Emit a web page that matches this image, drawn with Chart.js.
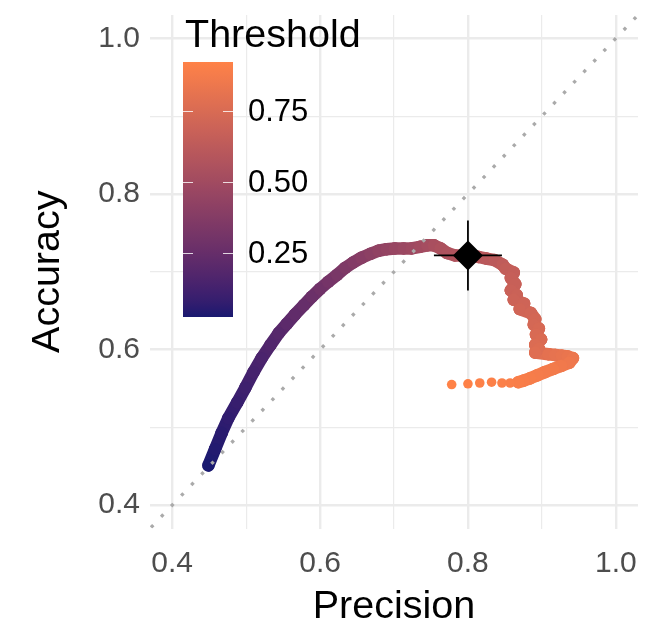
<!DOCTYPE html>
<html>
<head>
<meta charset="utf-8">
<script src="https://cdn.jsdelivr.net/npm/chart.js@4"></script>
<style>
  html, body { margin: 0; padding: 0; background: #fff; }
  canvas { display: block; }
</style>
</head>
<body>
<canvas id="pr-accuracy-chart" width="662" height="625"></canvas>
<script>
// one point per threshold
const precision = [
  0.449, 0.458, 0.467, 0.476, 0.488, 0.499, 0.510, 0.521, 0.533, 0.544,
  0.555, 0.566, 0.578, 0.589, 0.600, 0.611, 0.623, 0.634, 0.645, 0.656,
  0.668, 0.679, 0.690, 0.701, 0.713, 0.724, 0.735, 0.745, 0.754, 0.763,
  0.772, 0.782, 0.792, 0.803, 0.814, 0.825, 0.836, 0.847,
  0.851, 0.862, 0.858, 0.864, 0.858, 0.866, 0.862, 0.876, 0.870, 0.885,
  0.891, 0.889, 0.896, 0.892, 0.899, 0.891, 0.896, 0.891,
  0.909, 0.918, 0.927, 0.935, 0.942, 0.937, 0.926, 0.915, 0.904, 0.894,
  0.884, 0.875, 0.868, 0.857, 0.846, 0.832, 0.816, 0.800, 0.778
];
const accuracy = [
  0.451, 0.472, 0.493, 0.512, 0.532, 0.551, 0.571, 0.589, 0.606, 0.621,
  0.633, 0.645, 0.657, 0.668, 0.678, 0.687, 0.696, 0.705, 0.712, 0.718,
  0.723, 0.727, 0.729, 0.730, 0.730, 0.730, 0.732, 0.734, 0.734, 0.730,
  0.724, 0.721, 0.721, 0.721, 0.719, 0.717, 0.715, 0.709,
  0.704, 0.699, 0.692, 0.684, 0.676, 0.670, 0.664, 0.659, 0.652, 0.647,
  0.639, 0.632, 0.627, 0.619, 0.613, 0.606, 0.601, 0.596,
  0.594, 0.593, 0.592, 0.591, 0.589, 0.583, 0.579, 0.575, 0.571, 0.567,
  0.563, 0.560, 0.558, 0.557, 0.557, 0.558, 0.557, 0.556, 0.555
];
const threshold = [
  0.025, 0.040, 0.055, 0.070, 0.090, 0.110, 0.130, 0.150, 0.170, 0.190,
  0.210, 0.230, 0.250, 0.270, 0.290, 0.310, 0.330, 0.350, 0.370, 0.390,
  0.410, 0.430, 0.445, 0.460, 0.475, 0.490, 0.505, 0.520, 0.535, 0.550,
  0.560, 0.570, 0.580, 0.590, 0.600, 0.610, 0.620, 0.635,
  0.650, 0.657, 0.665, 0.672, 0.680, 0.687, 0.695, 0.702, 0.710, 0.717,
  0.725, 0.732, 0.740, 0.747, 0.755, 0.762, 0.770, 0.778,
  0.800, 0.810, 0.820, 0.830, 0.840, 0.850, 0.860, 0.870, 0.875, 0.880,
  0.885, 0.890, 0.895, 0.900, 0.905, 0.910, 0.915, 0.919, 0.923
];

// the chosen operating point with its error bars
const bestPrecision = [0.800];
const bestAccuracy = [0.721];
const bestPrecisionErr = 0.046;
const bestAccuracyErr = 0.045;

const gridTicks = [0.4, 0.5, 0.6, 0.7, 0.8, 0.9, 1.0];
const majorTicks = [0.4, 0.6, 0.8, 1.0];
const legendTicks = [0.25, 0.50, 0.75];
const axisMin = 0.37, axisMax = 1.03;

// above this threshold the points are sparse dots, not a band
const bandEnd = 0.897;

const lowColor = '#191970';
const highColor = '#FF8247';
const fontFamily = '"Liberation Sans", Arial, sans-serif';

// --- colour scale, interpolated in Lab like ggplot
function hexToRgb(h) {
  return [1, 3, 5].map(i => parseInt(h.slice(i, i + 2), 16));
}
function toLinear(c) { c /= 255; return c <= 0.04045 ? c / 12.92 : Math.pow((c + 0.055) / 1.055, 2.4); }
function fromLinear(c) { c = c <= 0.0031308 ? 12.92 * c : 1.055 * Math.pow(c, 1 / 2.4) - 0.055; return Math.round(Math.min(1, Math.max(0, c)) * 255); }
const WHITE = [0.95047, 1.0, 1.08883];
function rgbToLab(rgb) {
  const [r, g, b] = rgb.map(toLinear);
  const xyz = [
    0.4124 * r + 0.3576 * g + 0.1805 * b,
    0.2126 * r + 0.7152 * g + 0.0722 * b,
    0.0193 * r + 0.1192 * g + 0.9505 * b
  ].map((v, i) => v / WHITE[i]);
  const f = t => t > 0.008856 ? Math.cbrt(t) : 7.787 * t + 16 / 116;
  const [fx, fy, fz] = xyz.map(f);
  return [116 * fy - 16, 500 * (fx - fy), 200 * (fy - fz)];
}
function labToRgb([L, a, b]) {
  const fy = (L + 16) / 116, fx = fy + a / 500, fz = fy - b / 200;
  const inv = t => t * t * t > 0.008856 ? t * t * t : (t - 16 / 116) / 7.787;
  const [x, y, z] = [inv(fx), inv(fy), inv(fz)].map((v, i) => v * WHITE[i]);
  const r = 3.2406 * x - 1.5372 * y - 0.4986 * z;
  const g = -0.9689 * x + 1.8758 * y + 0.0415 * z;
  const bl = 0.0557 * x - 0.2040 * y + 1.0570 * z;
  return [r, g, bl].map(fromLinear);
}
const lowLab = rgbToLab(hexToRgb(lowColor));
const highLab = rgbToLab(hexToRgb(highColor));
const tMin = Math.min(...threshold);
const tMax = Math.max(...threshold);
function colorOf(t) {
  const f = Math.min(1, Math.max(0, (t - tMin) / (tMax - tMin)));
  const lab = lowLab.map((v, i) => v + (highLab[i] - v) * f);
  const [r, g, b] = labToRgb(lab);
  return `rgb(${r},${g},${b})`;
}

const isMajor = v => majorTicks.some(m => Math.abs(m - v) < 1e-6);

// colour bar legend drawn inside the panel
const thresholdLegend = {
  id: 'thresholdLegend',
  afterDraw(chart) {
    const c = chart.ctx;
    const barX = 183, barW = 50, barTop = 62, barH = 255;
    const yOf = v => barTop + barH - (v - tMin) / (tMax - tMin) * barH;
    c.save();
    const grad = c.createLinearGradient(0, barTop + barH, 0, barTop);
    for (let i = 0; i <= 30; i++) {
      grad.addColorStop(i / 30, colorOf(tMin + (tMax - tMin) * i / 30));
    }
    c.fillStyle = grad;
    c.fillRect(barX, barTop, barW, barH);

    c.strokeStyle = 'rgba(255,255,255,0.8)';
    c.lineWidth = 1;
    c.font = `31px ${fontFamily}`;
    c.fillStyle = '#000';
    c.textBaseline = 'middle';
    c.textAlign = 'left';
    legendTicks.forEach(v => {
      const y = Math.round(yOf(v)) + 0.5;
      c.beginPath();
      c.moveTo(barX, y); c.lineTo(barX + 10, y);
      c.moveTo(barX + barW - 10, y); c.lineTo(barX + barW, y);
      c.stroke();
      c.fillText(v.toFixed(2), 248, yOf(v) + 1);
    });

    c.font = `39.5px ${fontFamily}`;
    c.textBaseline = 'alphabetic';
    c.fillText('Threshold', 185, 47);
    c.restore();
  }
};

const setTicks = axis => { axis.ticks = gridTicks.map(v => ({ value: v })); };

const ctx = document.getElementById('pr-accuracy-chart');

new Chart(ctx, {
  type: 'scatter',
  data: {
    datasets: [
      {
        // operating point
        data: bestPrecision.map((p, i) => ({ x: p, y: bestAccuracy[i] })),
        pointStyle: 'rectRot',
        pointRadius: 15,
        pointBackgroundColor: '#000',
        pointBorderWidth: 0,
        order: 0
      },
      {
        data: [
          { x: bestPrecision[0] - bestPrecisionErr, y: bestAccuracy[0] },
          { x: bestPrecision[0] + bestPrecisionErr, y: bestAccuracy[0] }
        ],
        showLine: true,
        borderColor: '#000',
        borderWidth: 1.8,
        pointRadius: 0,
        order: 1
      },
      {
        data: [
          { x: bestPrecision[0], y: bestAccuracy[0] - bestAccuracyErr },
          { x: bestPrecision[0], y: bestAccuracy[0] + bestAccuracyErr }
        ],
        showLine: true,
        borderColor: '#000',
        borderWidth: 1.8,
        pointRadius: 0,
        order: 1
      },
      {
        // y = x reference
        data: [{ x: axisMin, y: axisMin }, { x: axisMax, y: axisMax }],
        showLine: true,
        borderColor: '#aaaaaa',
        borderWidth: 3.3,
        borderDash: [3.3, 11.3],
        borderDashOffset: -1.5,
        pointRadius: 0,
        order: 2
      },
      {
        label: 'Threshold',
        data: precision.map((p, i) => ({ x: p, y: accuracy[i] })),
        showLine: true,
        borderWidth: 12.5,
        borderCapStyle: 'round',
        borderJoinStyle: 'round',
        segment: {
          borderColor: s => threshold[s.p1DataIndex] > bandEnd
            ? 'rgba(0,0,0,0)'
            : colorOf((threshold[s.p0DataIndex] + threshold[s.p1DataIndex]) / 2)
        },
        pointRadius: s => threshold[s.dataIndex] > bandEnd ? 4.8 : 6.2,
        pointBackgroundColor: s => colorOf(threshold[s.dataIndex]),
        pointBorderWidth: 0,
        order: 3
      }
    ]
  },
  options: {
    responsive: false,
    animation: false,
    devicePixelRatio: 1,
    layout: { padding: { top: 10.5, right: 24, left: 0, bottom: 0 } },
    plugins: {
      legend: { display: false },
      tooltip: { enabled: false }
    },
    scales: {
      x: {
        type: 'linear',
        min: axisMin,
        max: axisMax,
        afterBuildTicks: setTicks,
        afterFit: s => { s.height = 96.5; s.paddingLeft = 0; s.paddingRight = 0; },
        border: { display: false },
        grid: {
          color: '#EBEBEB',
          lineWidth: s => isMajor(s.tick.value) ? 2.4 : 1.2,
          drawTicks: false
        },
        ticks: {
          autoSkip: false,
          maxRotation: 0,
          padding: 17,
          color: '#4D4D4D',
          font: { family: fontFamily, size: 30 },
          callback: v => isMajor(v) ? v.toFixed(1) : ''
        },
        title: {
          display: true,
          text: 'Precision',
          color: '#000',
          font: { family: fontFamily, size: 39.5, lineHeight: 1 },
          padding: { top: 0, bottom: -2 }
        }
      },
      y: {
        type: 'linear',
        min: axisMin,
        max: axisMax,
        afterBuildTicks: setTicks,
        afterFit: s => { s.width = 150; s.paddingTop = 0; s.paddingBottom = 0; },
        border: { display: false },
        grid: {
          color: '#EBEBEB',
          lineWidth: s => isMajor(s.tick.value) ? 2.4 : 1.2,
          drawTicks: false
        },
        ticks: {
          autoSkip: false,
          padding: 10,
          color: '#4D4D4D',
          font: { family: fontFamily, size: 30 },
          callback: v => isMajor(v) ? v.toFixed(1) : ''
        },
        title: {
          display: true,
          text: 'Accuracy',
          color: '#000',
          font: { family: fontFamily, size: 39.5, lineHeight: 1 },
          padding: { top: 28, bottom: 0 }
        }
      }
    }
  },
  plugins: [thresholdLegend]
});
</script>
</body>
</html>
